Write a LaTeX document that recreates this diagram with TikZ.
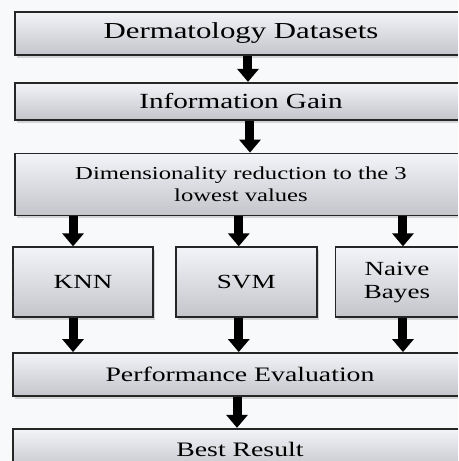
\documentclass[tikz,border=0pt]{standalone}
\usepackage{fontspec}
\setmainfont{Liberation Serif}[FakeStretch=1.35]
\usetikzlibrary{positioning,shadows,arrows.meta}
\definecolor{boxtop}{HTML}{F3F4F8}
\definecolor{boxbottom}{HTML}{C3C5CB}
\definecolor{paper}{HTML}{F7F9FB}

\begin{document}
\begin{tikzpicture}[
                x=0.02cm, y=0.02cm,
                node distance=0.6cm,
                stage/.style={draw=black!85, line width=1pt, top color=boxtop, bottom color=boxbottom,
                    drop shadow={shadow xshift=1.2pt, shadow yshift=-1.6pt, opacity=0.3},
                    inner sep=2pt, align=center},
                widebox/.style={stage, minimum width=9.04cm},
                algo/.style={stage, minimum height=1.4cm, font=\fontsize{11.4}{13.2}\selectfont},
                flow/.style={line width=0.18cm, -{Triangle[width=0.42cm,length=0.26cm]}}
            ]
                \fill[paper] (0,0) rectangle (458,-461);
                \useasboundingbox (0,0) rectangle (458,-461);
                \clip (0,0) rectangle (458,-461);
                \node[widebox, minimum height=0.86cm, font=\fontsize{13}{15}\selectfont] (data) at (241,-33.5) {Dermatology Datasets};
                \node[widebox, minimum height=0.74cm, font=\fontsize{12.3}{14}\selectfont, below=0.52cm of data] (gain) {Information Gain};
                \node[widebox, minimum height=1.24cm, font=\fontsize{10.4}{12.8}\selectfont, below=0.64cm of gain] (dim) {Dimensionality reduction to the 3\\lowest values};
                \node[algo, minimum width=2.8cm, below=0.6cm of dim.south west, anchor=north west, xshift=-0.04cm] (knn) {KNN};
                \node[algo, minimum width=2.82cm, right=0.42cm of knn] (svm) {SVM};
                \node[algo, minimum width=2.46cm, right=0.34cm of svm] (bayes) {Naive\\Bayes};
                \node[stage, minimum width=9.08cm, minimum height=0.86cm, font=\fontsize{11.7}{14}\selectfont,
                      below=0.68cm of knn.south west, anchor=north west] (perf) {Performance Evaluation};
                \node[stage, minimum width=9.08cm, minimum height=0.84cm, font=\fontsize{11.7}{14}\selectfont, below=0.62cm of perf] (best) {Best Result};
                \draw[flow] ([xshift=0.14cm]data.south) -- ([xshift=0.14cm]gain.north);
                \draw[flow] ([xshift=0.18cm]gain.south) -- ([xshift=0.18cm]dim.north);
                \foreach \alg/\dx in {knn/-0.2, svm/-0.15, bayes/0.12} {
                    \draw[flow] ([xshift=\dx cm]\alg.north |- dim.south) -- ([xshift=\dx cm]\alg.north);
                    \draw[flow] ([xshift=\dx cm]\alg.south) -- ([xshift=\dx cm]\alg.south |- perf.north);
                }
                \draw[flow] ([xshift=-0.06cm]perf.south) -- ([xshift=-0.06cm]best.north);
            \end{tikzpicture}
\end{document}
